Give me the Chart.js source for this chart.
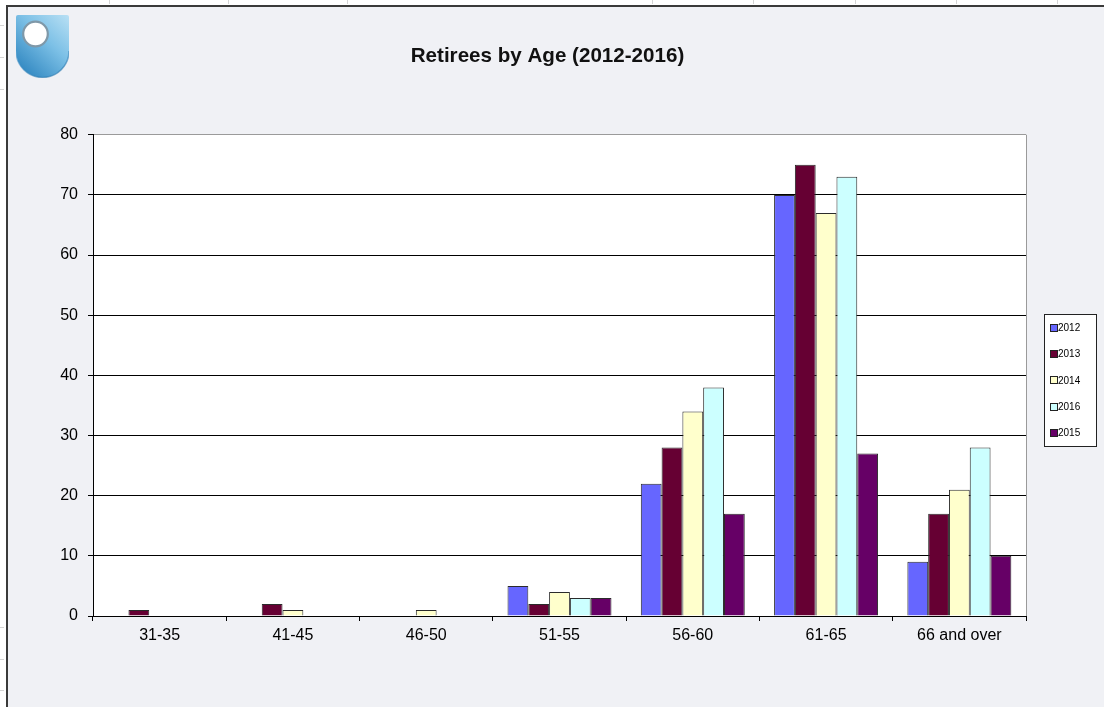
<!DOCTYPE html>
<html>
<head>
<meta charset="utf-8">
<title>Retirees by Age (2012-2016)</title>
<script src="https://cdn.jsdelivr.net/npm/chart.js@4"></script>
<style>
  html, body { margin: 0; padding: 0; background: #ffffff; }
  body { width: 1104px; height: 707px; position: relative; overflow: hidden; font-family: "Liberation Sans", Arial, sans-serif; }
  .sheet-mark { position: absolute; background: #d4d4d4; }
  .frame {
    position: absolute; left: 6px; top: 5px; width: 1110px; height: 720px;
    background: #f0f1f5; border-left: 2px solid #3a3a3a; border-top: 2px solid #3a3a3a;
  }
  .logo { position: absolute; left: 16px; top: 15px; width: 53px; height: 63px; }
  #chart { position: absolute; left: 0; top: 0; }
</style>
</head>
<body>
<div class="frame"></div>
<svg class="logo" viewBox="0 0 53 63" xmlns="http://www.w3.org/2000/svg">
  <defs>
    <linearGradient id="shieldFill" x1="1" y1="0" x2="0.2" y2="1">
      <stop offset="0" stop-color="#b9e0f4"/>
      <stop offset="0.45" stop-color="#7cc0e6"/>
      <stop offset="1" stop-color="#2f86c0"/>
    </linearGradient>
    <linearGradient id="shieldEdge" x1="0" y1="0" x2="1" y2="1">
      <stop offset="0" stop-color="#4a9bd0"/>
      <stop offset="1" stop-color="#1f6fa6"/>
    </linearGradient>
  </defs>
  <path d="M2 0 H51 Q53 0 53 2 V36 A26.5 26.5 0 0 1 0 36 V2 Q0 0 2 0 Z" fill="url(#shieldFill)"/>
  <path d="M0 36 A26.5 26.5 0 0 0 53 36" fill="none" stroke="url(#shieldEdge)" stroke-width="1.5" opacity="0.6"/>
  <circle cx="19.5" cy="19" r="12.3" fill="#ffffff" stroke="#7f98a8" stroke-width="2.2"/>
</svg>
<canvas id="chart" width="1104" height="707"></canvas>
<script>
// Faint spreadsheet cell edges around the embedded chart frame
const sheetColumnEdges = [109, 228, 347, 652, 753, 855, 956, 1057];
const sheetRowEdges = [25, 57, 89, 627, 659, 690];
sheetColumnEdges.forEach(x => {
  const d = document.createElement('div');
  d.className = 'sheet-mark';
  Object.assign(d.style, { left: x + 'px', top: '0px', width: '1px', height: '4px' });
  document.body.appendChild(d);
});
sheetRowEdges.forEach(y => {
  const d = document.createElement('div');
  d.className = 'sheet-mark';
  Object.assign(d.style, { left: '0px', top: y + 'px', width: '4px', height: '1px' });
  document.body.appendChild(d);
});

// Chart data
const ageGroups = ['31-35', '41-45', '46-50', '51-55', '56-60', '61-65', '66 and over'];
const seriesLabels = ['2012', '2013', '2014', '2016', '2015'];
const retirees2012 = [0, 0, 0, 5, 22, 70, 9];
const retirees2013 = [1, 2, 0, 2, 28, 75, 17];
const retirees2014 = [0, 1, 1, 4, 34, 67, 21];
const retirees2016 = [0, 0, 0, 3, 38, 73, 28];
const retirees2015 = [0, 0, 0, 3, 17, 27, 10];
const yTickValues = [0, 10, 20, 30, 40, 50, 60, 70, 80];

const seriesValues = [retirees2012, retirees2013, retirees2014, retirees2016, retirees2015];
const seriesColors = ['#6666ff', '#660033', '#ffffcc', '#ccffff', '#660066'];

const FONT = '"Liberation Sans", Arial, sans-serif';

// White plot background plus the grey right-hand frame line
const plotFrame = {
  id: 'plotFrame',
  beforeDraw(chart) {
    const { ctx, chartArea: a } = chart;
    ctx.save();
    ctx.fillStyle = '#ffffff';
    ctx.fillRect(a.left, a.top, a.right - a.left, a.bottom - a.top);
    ctx.restore();
  },
  afterDraw(chart) {
    const { ctx, chartArea: a } = chart;
    ctx.save();
    ctx.strokeStyle = '#9a9a9a';
    ctx.lineWidth = 1;
    ctx.beginPath();
    ctx.moveTo(Math.round(a.right) + 0.5, a.top);
    ctx.lineTo(Math.round(a.right) + 0.5, a.bottom);
    ctx.stroke();
    ctx.restore();
  }
};

// Boxed legend drawn in the reserved space right of the plot
const boxedLegend = {
  id: 'boxedLegend',
  afterDraw(chart) {
    const { ctx, chartArea: a } = chart;
    const sets = chart.data.datasets;
    const left = Math.round(a.right) + 18;
    const width = 52;
    const rowGap = 26.3;
    const height = 132;
    const top = Math.round((a.top + a.bottom) / 2 - 61.5);
    ctx.save();
    ctx.fillStyle = '#ffffff';
    ctx.fillRect(left, top, width, height);
    ctx.strokeStyle = '#222222';
    ctx.lineWidth = 1;
    ctx.strokeRect(left + 0.5, top + 0.5, width, height);
    ctx.font = '10px ' + FONT;
    ctx.textBaseline = 'middle';
    ctx.textAlign = 'left';
    sets.forEach((ds, i) => {
      const cy = top + 13.7 + i * rowGap;
      ctx.fillStyle = ds.backgroundColor;
      ctx.fillRect(left + 7, Math.round(cy - 3), 6, 6);
      ctx.strokeStyle = '#222222';
      ctx.strokeRect(left + 6.5, Math.round(cy - 3) - 0.5, 7, 7);
      ctx.fillStyle = '#000000';
      ctx.fillText(ds.label, left + 14, cy + 0.5);
    });
    ctx.restore();
  }
};

new Chart(document.getElementById('chart'), {
  type: 'bar',
  data: {
    labels: ageGroups,
    datasets: seriesLabels.map((label, i) => ({
      label,
      data: seriesValues[i],
      backgroundColor: seriesColors[i],
      borderColor: '#2b2b2b',
      borderWidth: 1,
      categoryPercentage: 0.78,
      barPercentage: 1.0
    }))
  },
  options: {
    responsive: false,
    animation: false,
    devicePixelRatio: 1,
    layout: { padding: { left: 0, right: 9, top: 0, bottom: 51 } },
    plugins: {
      legend: { display: false },
      tooltip: { enabled: false },
      title: {
        display: true,
        text: 'Retirees by Age (2012-2016)',
        color: '#111111',
        font: { family: FONT, size: 20.6, weight: 'bold', lineHeight: 1.2 },
        padding: { top: 44, bottom: 66 }
      }
    },
    scales: {
      x: {
        offset: true,
        grid: {
          offset: true,
          drawOnChartArea: false,
          drawTicks: true,
          tickLength: 5,
          color: '#000000',
          tickColor: '#000000'
        },
        border: { display: true, color: '#000000', width: 1 },
        ticks: {
          color: '#000000',
          padding: 5,
          maxRotation: 0,
          autoSkip: false,
          font: { family: FONT, size: 16 }
        },
        afterFit(scale) { scale.height = 40; }
      },
      y: {
        min: 0,
        max: 80,
        afterBuildTicks(scale) { scale.ticks = yTickValues.map(v => ({ value: v })); },
        grid: {
          color: ctx => (ctx.tick && ctx.tick.value === 80 ? '#9a9a9a' : '#000000'),
          tickColor: '#000000',
          tickLength: 5,
          lineWidth: 1
        },
        border: { display: true, color: '#000000', width: 1 },
        ticks: {
          color: '#000000',
          padding: 10,
          font: { family: FONT, size: 16 }
        },
        afterFit(scale) { scale.width = 93; }
      },
      legendSpace: {
        type: 'linear',
        position: 'right',
        display: true,
        grid: { display: false, drawTicks: false },
        border: { display: false },
        ticks: { display: false },
        afterFit(scale) { scale.width = 69; }
      }
    }
  },
  plugins: [plotFrame, boxedLegend]
});
</script>
</body>
</html>
